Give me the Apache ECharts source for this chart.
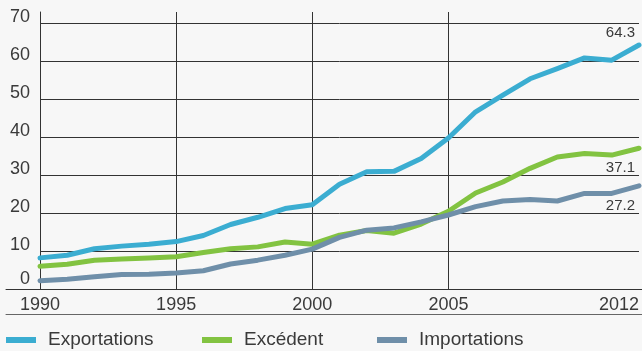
<!DOCTYPE html>
<html>
<head>
<meta charset="utf-8">
<script src="https://cdn.jsdelivr.net/npm/echarts@6/dist/echarts.min.js"></script>
<style>
  html, body { margin: 0; padding: 0; background: #f7f7f7; }
  #chart { width: 642px; height: 351px; }
</style>
</head>
<body>
<div id="chart"></div>
<script>
// Années
const years = ['1990','1991','1992','1993','1994','1995','1996','1997','1998','1999','2000',
  '2001','2002','2003','2004','2005','2006','2007','2008','2009','2010','2011','2012'];
const shownYears = ['1990','1995','2000','2005','2012'];
const gridYears = ['1995','2000','2005'];

const exportations = [8.2, 8.9, 10.6, 11.3, 11.8, 12.5, 14.1, 17.0, 18.9, 21.2, 22.2,
  27.6, 30.9, 31.0, 34.4, 39.8, 46.7, 51.1, 55.4, 58.1, 60.9, 60.3, 64.3];
const excedent = [6.0, 6.5, 7.6, 7.9, 8.2, 8.5, 9.6, 10.6, 11.1, 12.4, 11.8,
  14.2, 15.4, 14.7, 17.1, 20.5, 25.3, 28.2, 31.8, 34.8, 35.7, 35.3, 37.1];
const importations = [2.2, 2.6, 3.2, 3.8, 3.9, 4.2, 4.8, 6.6, 7.6, 8.9, 10.5,
  13.6, 15.5, 16.1, 17.7, 19.5, 21.7, 23.2, 23.6, 23.2, 25.2, 25.2, 27.2];

const FONT = "'Liberation Sans', Arial, sans-serif";
const TEXT = '#3a3a3a';

// Only the last point carries a (tiny) symbol and its value label
function withEndLabel(values, color, pos, dist) {
  return values.map((v, i) => i === values.length - 1
    ? { value: v, symbol: 'circle', symbolSize: 2, itemStyle: { color },
        label: { show: true, position: pos, distance: dist, align: 'right', offset: [-4, 0],
          formatter: String(v), fontFamily: FONT, fontSize: 15, color: TEXT } }
    : v);
}

function lineSeries(name, values, color, pos, dist) {
  return {
    name, type: 'line', data: withEndLabel(values, color, pos, dist),
    showSymbol: true, symbol: 'none', smooth: false,
    lineStyle: { width: 5, color, join: 'round', cap: 'round' },
    itemStyle: { color },
    emphasis: { disabled: true }
  };
}

const chart = echarts.init(document.getElementById('chart'));
chart.setOption({
  animation: false,
  backgroundColor: '#f7f7f7',
  grid: [
    { left: 40, right: 1, top: 12, bottom: 62 },
    { left: 6, right: 0, top: 289, height: 25 }
  ],
  legend: [
    { data: ['Exportations'], left: 6 },
    { data: ['Excédent'], left: 202 },
    { data: ['Importations'], left: 377 }
  ].map(l => Object.assign(l, {
    top: 330, padding: 0, icon: 'rect', itemWidth: 30, itemHeight: 6, selectedMode: false,
    textStyle: { fontFamily: FONT, fontSize: 19, color: TEXT, padding: [0, 0, 0, 7], lineHeight: 20 }
  })),
  xAxis: [
    {
      type: 'category', data: years, boundaryGap: false, gridIndex: 0,
      axisLine: { show: true, lineStyle: { color: '#333', width: 1 } },
      axisTick: { show: false },
      axisLabel: {
        interval: (i, v) => shownYears.includes(v),
        alignMaxLabel: 'right',
        margin: 7, fontFamily: FONT, fontSize: 18, color: TEXT
      },
      splitLine: {
        show: true, interval: (i, v) => gridYears.includes(v),
        lineStyle: { color: '#333', width: 1 }
      }
    },
    {
      type: 'value', gridIndex: 1, position: 'top', min: 0, max: 1,
      axisLine: { show: true, onZero: false, lineStyle: { color: '#333', width: 1 } },
      axisTick: { show: false }, axisLabel: { show: false }, splitLine: { show: false }
    },
    {
      type: 'value', gridIndex: 1, position: 'bottom', min: 0, max: 1,
      axisLine: { show: true, onZero: false, lineStyle: { color: '#666', width: 1 } },
      axisTick: { show: false }, axisLabel: { show: false }, splitLine: { show: false }
    }
  ],
  yAxis: [
    {
      type: 'value', min: 0, max: 73, interval: 10, gridIndex: 0,
      axisLine: { show: true, lineStyle: { color: '#333', width: 1 } },
      axisTick: { show: false },
      axisLabel: {
        showMaxLabel: false,
        formatter: v => v > 70 ? '' : (v === 0 ? '{z|0}' : String(v)),
        margin: 10, padding: [0, 0, 12, 0],
        fontFamily: FONT, fontSize: 18, color: TEXT,
        rich: { z: { fontFamily: FONT, fontSize: 18, color: TEXT, padding: [0, 0, 8, 0] } }
      },
      splitLine: {
        show: true,
        lineStyle: { color: ['#333', '#333', '#333', '#333', '#333', '#333', '#333', '#333', 'rgba(0,0,0,0)'], width: 1 }
      }
    },
    { type: 'value', gridIndex: 1, show: false }
  ],
  series: [
    lineSeries('Exportations', exportations, '#3badd1', 'top', 4),
    lineSeries('Excédent', excedent, '#82c341', 'bottom', 11),
    lineSeries('Importations', importations, '#6f8fa9', 'bottom', 12)
  ]
});
</script>
</body>
</html>
